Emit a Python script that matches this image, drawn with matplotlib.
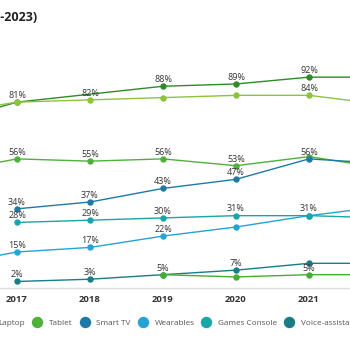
import matplotlib
matplotlib.use("Agg")
import matplotlib.pyplot as plt

# Share of adults owning each device, by year (in %)
smartphone_years = [2016, 2017, 2019, 2020, 2021, 2022]
smartphone = [72, 81, 88, 89, 92, 92]

laptop_years = [2016, 2017, 2018, 2019, 2020, 2021, 2022]
laptop = [76, 81, 82, 83, 84, 84, 80]

tablet_years = [2016, 2017, 2018, 2019, 2020, 2021, 2022]
tablet = [50, 56, 55, 56, 53, 57, 52]

smart_tv_years = [2017, 2018, 2019, 2020, 2021, 2022]
smart_tv = [34, 37, 43, 47, 56, 54]

wearables_years = [2016, 2017, 2018, 2019, 2020, 2021, 2022]
wearables = [9, 15, 17, 22, 26, 31, 35]

console_years = [2017, 2018, 2019, 2020, 2021, 2022]
console = [28, 29, 30, 31, 31, 30]

voice_years = [2017, 2018, 2019, 2020, 2021, 2022]
voice = [2, 3, 5, 7, 10, 10]

vr_years = [2019, 2020, 2021, 2022]
vr = [5, 4, 5, 5]

series = [
    ("Smartphone", smartphone_years, smartphone, "#2f8a2a"),
    ("Laptop", laptop_years, laptop, "#8cc43c"),
    ("Tablet", tablet_years, tablet, "#4fb03a"),
    ("Smart TV", smart_tv_years, smart_tv, "#1f79a6"),
    ("Wearables", wearables_years, wearables, "#25a3d6"),
    ("Games Console", console_years, console, "#1aa5a8"),
    ("Voice-assistant speaker", voice_years, voice, "#177d86"),
    ("VR headset", vr_years, vr, "#46ad33"),
]

# labels the original chart leaves out where they would overlap
hidden_labels = {
    ("Smartphone", 2017),
    ("Laptop", 2019), ("Laptop", 2020),
    ("Tablet", 2021),
    ("Wearables", 2020), ("Wearables", 2021),
    ("Voice-assistant speaker", 2019), ("Voice-assistant speaker", 2021),
    ("VR headset", 2020),
}
# only these years fall inside the visible part of the chart
visible_years = range(2017, 2022)

plt.rcParams["font.family"] = ["Open Sans", "DejaVu Sans"]

W = H = 350
fig = plt.figure(figsize=(3.5, 3.5), dpi=100)

# the picture is a crop of a wider chart: one year = 73 px, 2017 at x=17
px_year = 73
x2017 = 17
x0, x1 = 2015.5, 2022.5
y0, y1 = -1, 100
left = (x2017 + (x0 - 2017) * px_year) / W
width = (x1 - x0) * px_year / W
bottom = 1 - 288.3 / H
top = 1 - 59 / H
ax = fig.add_axes([left, bottom, width, top - bottom])

for name, xs, ys, color in series:
    ax.plot(xs, ys, color=color, lw=1.0, marker="o", markersize=3.6,
            label=name, zorder=3, clip_on=False)
    for x, y in zip(xs, ys):
        if (name, x) in hidden_labels or x not in visible_years:
            continue
        ax.annotate(f"{y}%", (x, y), xytext=(0, 4.8), textcoords="offset points",
                    ha="center", va="center", fontsize=6.5, color="#333333",
                    zorder=5)

ax.set_xlim(x0, x1)
ax.set_ylim(y0, y1)
ax.set_xticks(list(visible_years))
ax.set_xticklabels([str(y) for y in visible_years], fontsize=6.8,
                   fontweight="bold", color="#333333")
ax.tick_params(axis="x", length=0, pad=4.5)
ax.set_yticks([])
for s in ["top", "right", "left"]:
    ax.spines[s].set_visible(False)
ax.spines["bottom"].set_color("#dddddd")
ax.spines["bottom"].set_linewidth(1.0)

fig.text(37 / W, 1 - 18 / H, "Device ownership in the UK (2016-2023)",
         ha="right", va="center", fontsize=9, fontweight="bold",
         color="#222222")

handles = [plt.Line2D([], [], ls="none", marker="o", markersize=7.2,
                      color=c) for _, _, _, c in series]
leg = fig.legend(handles, [s[0] for s in series], ncol=len(series),
                 loc="center left", bbox_to_anchor=(0, 1 - 323 / H),
                 frameon=False, fontsize=5.9, handlelength=1.0,
                 handletextpad=0.95, columnspacing=0.95, borderpad=0)
for t in leg.get_texts():
    t.set_color("#555555")

# shift the legend so that "Tablet" starts at x = 49 px
fig.canvas.draw()
r = fig.canvas.get_renderer()
tx = leg.get_texts()[2].get_window_extent(r).x0
leg.set_bbox_to_anchor((-(tx - 49) / W, 1 - 323 / H), transform=fig.transFigure)

fig.savefig("out.png", dpi=100, facecolor="white")
